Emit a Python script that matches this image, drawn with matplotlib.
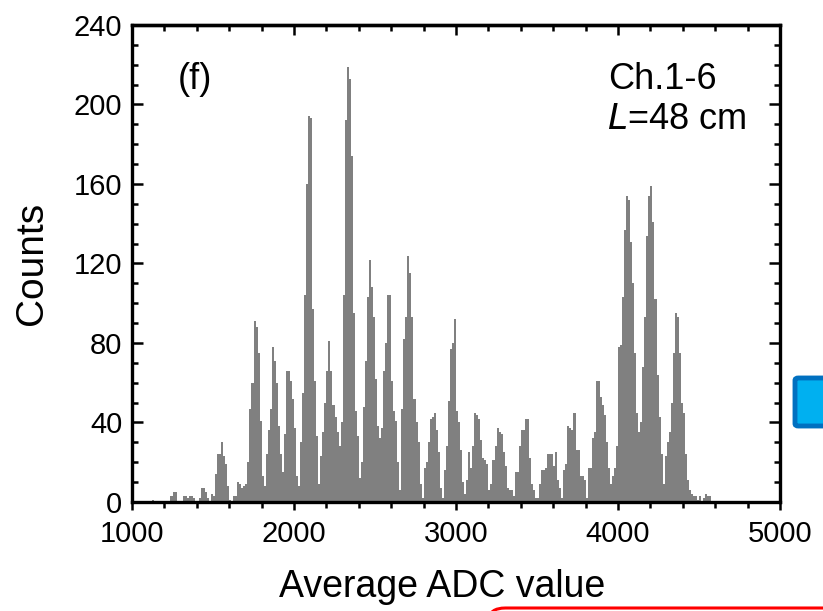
import matplotlib
matplotlib.use("Agg")
import matplotlib.pyplot as plt
from matplotlib.patches import FancyBboxPatch
from matplotlib.ticker import MultipleLocator
import numpy as np

plt.rcParams['font.family'] = ['Liberation Sans', 'DejaVu Sans']

# ── Histogram data (bins of 12.5 ADC starting at 1100) ──
BIN_START = 1100
BIN_WIDTH = 12.5
counts = [
    0, 0, 1, 0, 0, 0, 0, 0, 0, 0,
    0, 3, 5, 5, 0, 0, 0, 3, 3, 2,
    3, 3, 2, 0, 0, 2, 7, 7, 5, 2,
    0, 4, 3, 14, 24, 24, 30, 23, 19, 8,
    1, 0, 3, 3, 10, 9, 7, 8, 9, 20,
    47, 60, 91, 88, 75, 41, 13, 8, 24, 36,
    47, 78, 71, 60, 38, 24, 15, 34, 66, 66,
    61, 52, 37, 13, 8, 30, 55, 104, 160, 194,
    193, 97, 61, 33, 9, 23, 35, 50, 66, 81,
    66, 49, 43, 35, 28, 40, 104, 192, 219, 213,
    174, 95, 46, 33, 12, 20, 48, 71, 103, 122,
    108, 93, 62, 38, 32, 37, 66, 80, 104, 104,
    61, 46, 41, 20, 6, 47, 82, 93, 124, 115,
    93, 52, 40, 30, 9, 2, 17, 20, 30, 42,
    43, 45, 36, 25, 7, 2, 16, 28, 51, 77,
    80, 92, 46, 40, 26, 10, 4, 11, 25, 17,
    28, 45, 44, 42, 31, 22, 21, 19, 6, 9,
    21, 28, 37, 35, 34, 25, 18, 7, 6, 6,
    3, 15, 15, 28, 36, 36, 42, 42, 22, 9,
    6, 2, 2, 9, 16, 16, 17, 24, 24, 24,
    18, 25, 11, 7, 2, 16, 19, 38, 37, 36,
    45, 26, 26, 13, 13, 11, 2, 17, 17, 32,
    35, 61, 61, 53, 49, 44, 30, 17, 9, 13,
    17, 28, 78, 79, 103, 137, 154, 152, 131, 110,
    75, 45, 35, 40, 68, 93, 134, 154, 159, 141,
    102, 64, 43, 24, 9, 23, 30, 35, 50, 75,
    95, 93, 75, 50, 45, 24, 11, 6, 4, 3,
    3, 1, 3, 0, 2, 4, 3, 3,
]
edges = BIN_START + BIN_WIDTH * np.arange(len(counts) + 1)

x_ticks = [1000, 2000, 3000, 4000, 5000]
y_ticks = [0, 40, 80, 120, 160, 200, 240]

fig = plt.figure(figsize=(8.23, 6.11), dpi=100)
ax = fig.add_axes([0.1604, 0.1784, 0.7874, 0.7807])

ax.stairs(counts, edges, fill=True, color='#808080')

ax.set_xlim(1000, 5000)
ax.set_ylim(0, 240)
ax.set_xticks(x_ticks)
ax.set_yticks(y_ticks)
ax.xaxis.set_minor_locator(MultipleLocator(200))
ax.yaxis.set_minor_locator(MultipleLocator(10))

for s in ax.spines.values():
    s.set_linewidth(2.4)

ax.tick_params(axis='x', which='both', direction='out', top=False,
               labelsize=21, pad=7, width=1.8)
ax.tick_params(axis='x', which='major', length=6)
ax.tick_params(axis='x', which='minor', length=4)
ax.tick_params(axis='y', which='both', direction='in', left=True, right=True,
               labelsize=21, pad=7, width=1.8)
ax.tick_params(axis='y', which='major', length=8)
ax.tick_params(axis='y', which='minor', length=4.5)

# top ticks point inward
top = ax.secondary_xaxis('top')
top.set_xticks(x_ticks)
top.xaxis.set_minor_locator(MultipleLocator(200))
top.tick_params(which='both', direction='in', labeltop=False, width=1.8)
top.tick_params(which='major', length=7)
top.tick_params(which='minor', length=4)
top.spines['top'].set_linewidth(2.4)

ax.set_xlabel('Average ADC value', fontsize=27, labelpad=15, x=0.478)
ax.set_ylabel('Counts', fontsize=28, labelpad=17)

ax.text(0.071, 0.885, '(f)', transform=ax.transAxes, fontsize=26,
        ha='left', va='center')
ax.text(0.735, 0.885, 'Ch.1-6', transform=ax.transAxes, fontsize=26,
        ha='left', va='center')
ax.text(0.733, 0.802, r'$\it{L}$=48 cm', transform=ax.transAxes, fontsize=26,
        ha='left', va='center')

# slide decorations at the edges
W, H = 823, 611
fig.patches.append(FancyBboxPatch((795 / W, (611 - 426) / H), 40 / W, 48 / H,
                                  boxstyle='round,pad=0,rounding_size=0.004',
                                  transform=fig.transFigure,
                                  facecolor='#00B0F0', edgecolor='#0070C0',
                                  linewidth=3.5))
fig.patches.append(FancyBboxPatch((489 / W, -20 / H), 360 / W, 23 / H,
                                  boxstyle='round,pad=0,rounding_size=0.02',
                                  transform=fig.transFigure,
                                  facecolor='none', edgecolor='#FF0000',
                                  linewidth=2.2))

fig.savefig('out.png', dpi=100)
